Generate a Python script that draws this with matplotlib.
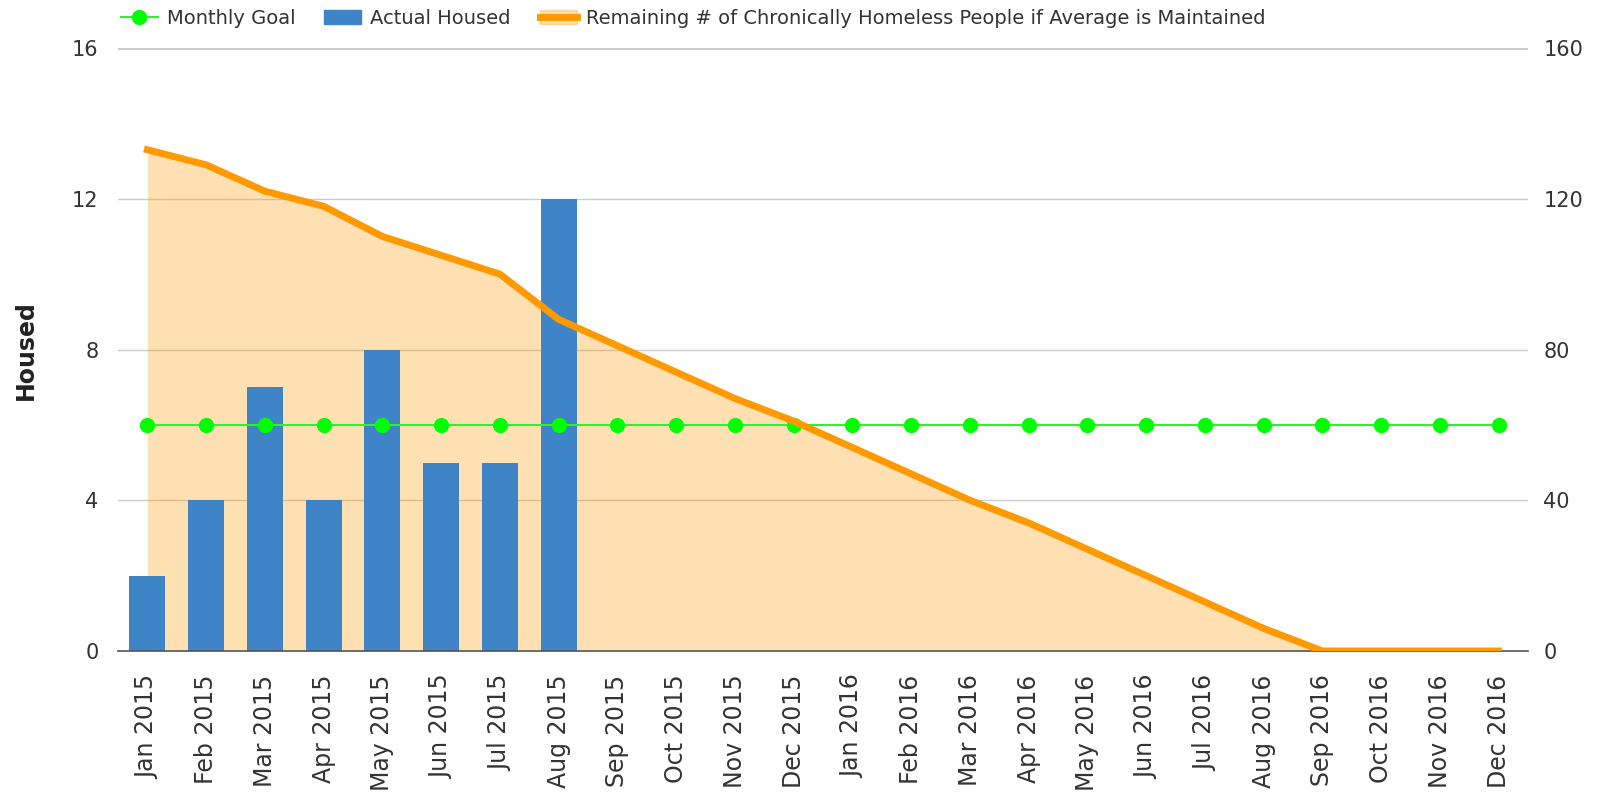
import matplotlib.pyplot as plt
import numpy as np
from matplotlib.lines import Line2D
from matplotlib.patches import Patch
from matplotlib.legend_handler import HandlerTuple

months = ["Jan 2015", "Feb 2015", "Mar 2015", "Apr 2015", "May 2015", "Jun 2015",
          "Jul 2015", "Aug 2015", "Sep 2015", "Oct 2015", "Nov 2015", "Dec 2015",
          "Jan 2016", "Feb 2016", "Mar 2016", "Apr 2016", "May 2016", "Jun 2016",
          "Jul 2016", "Aug 2016", "Sep 2016", "Oct 2016", "Nov 2016", "Dec 2016"]
housed = [2, 4, 7, 4, 8, 5, 5, 12]
goal = [6] * 24
remaining = [133, 129, 122, 118, 110, 105, 100, 88, 81, 74, 67, 61,
             54, 47, 40, 34, 27, 20, 13, 6, 0, 0, 0, 0]

plt.rcParams['font.family'] = ['DejaVu Sans']

fig = plt.figure(figsize=(16.14, 7.92), dpi=100)
ax = fig.add_axes([118 / 1614, 1 - 651 / 792, 1410 / 1614, 603 / 792])
ax2 = ax.twinx()

x = np.arange(len(months))

# the fill lives on the right axis, behind the bars
ax2.set_zorder(1)
ax.set_zorder(2)
ax.patch.set_visible(False)

ax2.fill_between(x, remaining, 0, color='#ff9900', alpha=0.3, lw=0, zorder=1)
ax2.set_ylim(0, 160)
ax2.set_yticks([0, 40, 80, 120, 160])

# gridlines
for v in [40, 80, 120]:
    ax2.axhline(v, color='#cccccc', lw=1, zorder=0.5)
ax2.axhline(160, color='#cccccc', lw=2.2, zorder=0.5)

ax.bar(x[:len(housed)], housed, width=0.61, color='#3e84c6', zorder=2)
ax.plot(x, goal, color='#33ee33', lw=1.5, marker='o', markersize=10,
        markerfacecolor='#00ff00', markeredgecolor='#00ff00', zorder=3)
# orange line on top, scaled to left axis units
ax.plot(x, np.array(remaining) / 10, color='#ff9900', lw=5, zorder=4,
        solid_joinstyle='round')

ax.set_xlim(-0.5, 23.5)
ax.set_ylim(0, 16)
ax.set_yticks([0, 4, 8, 12, 16])
ax.set_xticks(x)
ax.set_xticklabels(months, rotation=90)

for a in (ax, ax2):
    for s in a.spines.values():
        s.set_visible(False)
    a.tick_params(length=0, labelsize=15, labelcolor='#333333')
ax.tick_params(axis='y', pad=14)
ax2.tick_params(axis='y', pad=11)
ax.tick_params(axis='x', pad=17, labelsize=17)
ax.spines['bottom'].set_visible(True)
ax.spines['bottom'].set_color('#555555')
ax.spines['bottom'].set_linewidth(1.2)

fig.text(26 / 1614, 1 - 350 / 792, "Housed", rotation=90, ha='center', va='center',
         fontsize=17, fontweight='bold', color='#222222')

# legend
h1 = Line2D([], [], color='#33ee33', lw=1.5, marker='o', markersize=10,
            markerfacecolor='#00ff00', markeredgecolor='#00ff00')
h2 = Patch(color='#3e84c6')
h3 = (Patch(color='#ff9900', alpha=0.3), Line2D([], [], color='#ff9900', lw=5))
fig.legend([h1, h2, h3], ["Monthly Goal", "Actual Housed",
                          "Remaining # of Chronically Homeless People if Average is Maintained"],
           loc='center left', bbox_to_anchor=(121 / 1614, 1 - 18 / 792), ncol=3,
           frameon=False, fontsize=14, handlelength=1.9, columnspacing=1.5,
           handletextpad=0.45, borderpad=0, borderaxespad=0, labelcolor='#333333',
           handler_map={tuple: HandlerTuple(ndivide=1)})

fig.savefig('out.png', dpi=100)
